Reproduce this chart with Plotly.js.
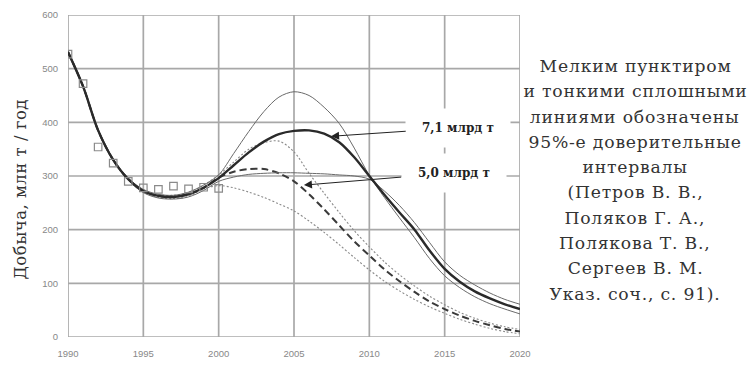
<!DOCTYPE html>
<html>
<head>
<meta charset="utf-8">
<script src="https://cdn.plot.ly/plotly-3.0.1.min.js"></script>
<style>
html,body{margin:0;padding:0;background:#fff;}
#chart{width:751px;height:367px;}
#chart .annotation.note text{letter-spacing:0.8px;}
#chart .annotation.ytitle text{letter-spacing:0.5px;}
</style>
</head>
<body>
<div id="chart"></div>
<script>
// ---- data ----
const years = [1990,1991,1992,1993,1994,1995,1996,1997,1998,1999,2000,2001,2002,2003,2004,2005,2006,2007,2008,2009,2010,2011,2012,2013,2014,2015,2016,2017,2018,2019,2020];

// 7,1 млрд т scenario: central (thick solid) and 95% bounds (thin solid)
const central71 = [531,467,385,330,294,272,263,261,266,278,296,320,344,364,378,384,385,379,363,335,300,265,232,200,161,127,103,85,72,61,52];
const upper71   = [533,469,387,332,296,275,266,264,270,283,302,342,383,420,447,457,450,428,398,352,301,260,222,185,146,114,92,75,62,52,43];
const lower71   = [529,465,383,328,292,269,259,257,261,273,290,298,303,305,306,306,305,304,302,300,294,272,245,213,176,140,115,97,82,70,61];

// 5,0 млрд т scenario: central (thick dashed) and 95% bounds (fine dotted)
const central50 = [531,467,385,330,294,272,263,261,266,278,297,308,313,313,305,290,266,238,208,178,152,126,104,84,66,52,40,30,22,15,10];
const upper50   = [532,468,386,331,295,274,265,264,269,283,302,326,350,362,365,345,305,268,232,198,168,140,116,95,76,60,46,35,26,19,14];
const lower50   = [530,466,384,329,293,270,260,258,262,276,282,278,270,260,248,235,216,195,172,148,125,104,86,70,56,44,33,24,16,10,6];

// observed production
const obsYears = [1990,1991,1992,1993,1994,1995,1996,1997,1998,1999,2000];
const obsValues = [527,472,354,324,290,278,275,281,276,279,277];

const xTicks = [1990,1995,2000,2005,2010,2015,2020];
const yTicks = [0,100,200,300,400,500,600];

const yTitle = 'Добыча, млн т / год';
const label71 = '7,1 млрд т';
const label50 = '5,0 млрд т';
const noteLines = ['Мелким пунктиром','и тонкими сплошными','линиями обозначены','95%-е доверительные','интервалы','(Петров В. В.,','Поляков Г. А.,','Полякова Т. В.,','Сергеев В. М.','Указ. соч., с. 91).'];

// ---- traces ----
function line(y, color, width, dash){
  return {x: years, y: y, type:'scatter', mode:'lines', hoverinfo:'skip',
          line:{color:color, width:width, dash:dash, shape:'spline', smoothing:0.9}};
}
const traces = [
  line(lower50, '#8a8a8a', 1.1, '2px,2px'),
  line(upper50, '#8a8a8a', 1.1, '2px,2px'),
  line(central50, '#3a3a3a', 2, '7px,4px'),
  line(lower71, '#6a6a6a', 1, 'solid'),
  line(upper71, '#6a6a6a', 1, 'solid'),
  line(central71, '#2a2a2a', 2.4, 'solid'),
  {x: obsYears, y: obsValues, type:'scatter', mode:'markers', hoverinfo:'skip',
   marker:{symbol:'square-open', size:7.5, color:'#8a8a8a', line:{width:1.2, color:'#8a8a8a'}}}
];

const tickFont = {family:'Liberation Sans, Arial, sans-serif', size:9.5, color:'#888'};
const gridColor = '#a8a8a8';

// grid lines as shapes on the tick positions
const gridShapes = [];
xTicks.forEach(function(v){
  gridShapes.push({type:'line', xref:'x', yref:'paper', x0:v, x1:v, y0:0, y1:1, layer:'below',
                   line:{color:gridColor, width:1.7}});
});
yTicks.forEach(function(v){
  gridShapes.push({type:'line', xref:'paper', yref:'y', x0:0, x1:1, y0:v, y1:v, layer:'below',
                   line:{color:gridColor, width:1.7}});
});

// right-side note, one annotation per line
const noteAnns = noteLines.map(function(t, i){
  return {x:1.255, y:0.135 + (noteLines.length - 1 - i) * 0.0785, xref:'paper', yref:'paper',
          xanchor:'center', yanchor:'middle', align:'center', showarrow:false, text:t,
          font:{family:'DejaVu Serif, serif', size:17.2, color:'#333'}};
});

const layout = {
  width:751, height:367,
  margin:{l:68, r:231, t:15, b:30, pad:0},
  paper_bgcolor:'#fff', plot_bgcolor:'#fff',
  showlegend:false,
  shapes: gridShapes,
  xaxis:{range:[1990,2020], tickvals:xTicks, ticktext:xTicks.map(String),
         showgrid:false, showline:false, zeroline:false,
         ticks:'', ticklabelstandoff:9, tickfont:tickFont},
  yaxis:{range:[0,600], tickvals:yTicks, ticktext:yTicks.map(String),
         showgrid:false, showline:false, zeroline:false,
         ticks:'', ticklabelstandoff:9, tickfont:tickFont},
  annotations:[
    {x:2007.46, y:374, xref:'x', yref:'y', ax:2015.9, ay:390, axref:'x', ayref:'y',
     text:label71, showarrow:true, arrowhead:2, arrowsize:1.6, arrowwidth:1, arrowcolor:'#222',
     standoff:0, bgcolor:'#fff', borderpad:10, width:84, height:18,
     font:{family:'DejaVu Serif, serif', size:12, color:'#222', weight:'bold'}},
    {x:2005.66, y:283, xref:'x', yref:'y', ax:2015.6, ay:306, axref:'x', ayref:'y',
     text:label50, showarrow:true, arrowhead:2, arrowsize:1.6, arrowwidth:1, arrowcolor:'#222',
     standoff:0, bgcolor:'#fff', borderpad:10, width:84, height:18,
     font:{family:'DejaVu Serif, serif', size:12, color:'#222', weight:'bold'}},
    {x:-0.104, y:0.46, xref:'paper', yref:'paper', xanchor:'center', yanchor:'middle',
     textangle:-90, showarrow:false, text:yTitle,
     font:{family:'DejaVu Serif, serif', size:16.5, color:'#333'}}
  ].concat(noteAnns)
};

Plotly.newPlot('chart', traces, layout, {staticPlot:true, displayModeBar:false}).then(function(gd){
  const anns = gd.querySelectorAll('.annotation');
  anns[2].classList.add('ytitle');
  for (let i = 3; i < anns.length; i++) anns[i].classList.add('note');
});
</script>
</body>
</html>
